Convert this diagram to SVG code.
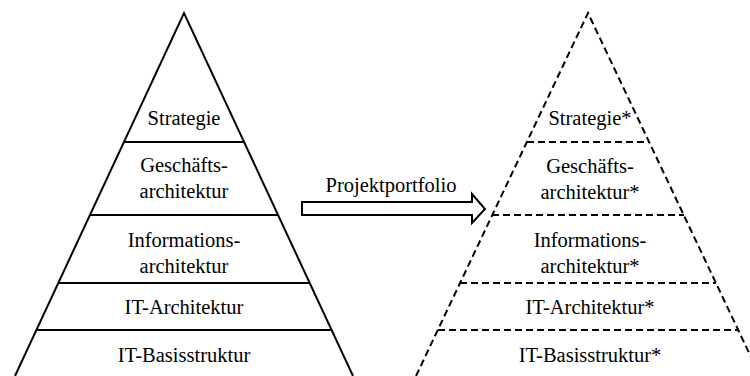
<svg xmlns="http://www.w3.org/2000/svg" width="750" height="376" viewBox="0 0 750 376">
<style>
.s{fill:none;stroke:#000;stroke-width:2}
.d{fill:none;stroke:#000;stroke-width:2;stroke-dasharray:7 4}
</style>
<rect width="750" height="376" fill="#fff"/>
<g font-family="Liberation Serif" font-size="20.5" text-anchor="middle" fill="#000">
<g id="left-pyramid">
<polyline class="s" points="15,376 184,13 353,376"/>
<g id="l-strategie"><line class="s" x1="124" y1="142" x2="244" y2="142"/><text x="184" y="125">Strategie</text></g>
<g id="l-geschaeft"><line class="s" x1="90" y1="215" x2="278" y2="215"/><text x="184" y="172">Geschäfts-</text><text x="184" y="198">architektur</text></g>
<g id="l-info"><line class="s" x1="59" y1="283" x2="309" y2="283"/><text x="184" y="247">Informations-</text><text x="184" y="273">architektur</text></g>
<g id="l-it"><line class="s" x1="37" y1="330" x2="331" y2="330"/><text x="184" y="314">IT-Architektur</text></g>
<g id="l-basis"><text x="184" y="362">IT-Basisstruktur</text></g>
</g>
<g id="connectors">
<polygon class="s" points="302,202 472,202 472,194 485,209 472,223 472,215 302,215"/>
<text x="391" y="192">Projektportfolio</text>
</g>
<g id="right-pyramid">
<polyline class="d" points="416,376 588,13 760,376"/>
<g id="r-strategie"><line class="d" x1="527" y1="142" x2="649" y2="142"/><text x="590" y="125">Strategie*</text></g>
<g id="r-geschaeft"><line class="d" x1="492" y1="215" x2="684" y2="215"/><text x="590" y="173">Geschäfts-</text><text x="590" y="199">architektur*</text></g>
<g id="r-info"><line class="d" x1="460" y1="283" x2="716" y2="283"/><text x="590" y="247">Informations-</text><text x="590" y="273">architektur*</text></g>
<g id="r-it"><line class="d" x1="438" y1="330" x2="738" y2="330"/><text x="590" y="314">IT-Architektur*</text></g>
<g id="r-basis"><text x="590" y="362">IT-Basisstruktur*</text></g>
</g>
</g>
</svg>
